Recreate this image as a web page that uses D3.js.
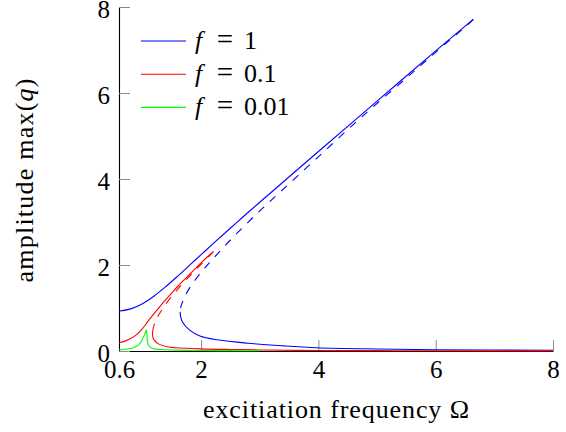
<!DOCTYPE html>
<html>
<head>
<meta charset="utf-8">
<script src="https://cdn.jsdelivr.net/npm/d3@7"></script>
<style>
  html, body { margin: 0; padding: 0; background: #fff; }
  svg { display: block; }
  text { font-family: "Liberation Serif", "Times New Roman", serif; fill: #000; }
</style>
</head>
<body>
<svg id="chart" width="566" height="432"></svg>
<script>
// ---- data (excitation frequency Omega, amplitude max(q)) ----
const xTicks = [0.6, 2, 4, 6, 8];
const xTickLabels = ["0.6", "2", "4", "6", "8"];
const yTicks = [0, 2, 4, 6, 8];
const yTickLabels = ["0", "2", "4", "6", "8"];

const seriesNames = ["1", "0.1", "0.01"];
const seriesColors = ["#0000ff", "#ff0000", "#00ff00"];

// f = 1
const blueUpper = [[0.6,0.93],[0.8,0.98],[1.0,1.10],[1.2,1.28],[1.4,1.50],[1.6,1.74],[1.8,1.99],[2.0,2.24],[2.2,2.49],[2.6,2.98],[3.0,3.46],[3.34,3.86],[4.0,4.64],[5.0,5.81],[6.0,6.98],[6.4,7.44],[6.64,7.71]];
const blueDashed = [[6.64,7.71],[6.43,7.45],[6.22,7.21],[5.56,6.42],[4.76,5.47],[3.97,4.48],[3.35,3.70],[2.94,3.18],[2.54,2.64],[2.34,2.35],[2.16,2.08],[1.99,1.81],[1.81,1.48],[1.71,1.23],[1.66,1.05],[1.643,0.91]];
const blueLower = [[1.643,0.91],[1.65,0.81],[1.68,0.68],[1.80,0.49],[1.98,0.35],[2.28,0.26],[2.80,0.18],[3.40,0.12],[3.97,0.077],[5.0,0.047],[6.0,0.030],[8.0,0.016]];

// f = 0.1
const redUpper = [[0.6,0.19],[0.7,0.23],[0.8,0.29],[0.9,0.38],[1.0,0.52],[1.1,0.70],[1.2,0.875],[1.3,1.04],[1.4,1.20],[1.5,1.35],[1.6,1.50],[1.7,1.64],[1.8,1.78],[1.9,1.915],[2.0,2.05],[2.1,2.18],[2.21,2.31]];
const redDashed = [[2.21,2.31],[2.134,2.2],[1.987,2.0],[1.845,1.8],[1.708,1.6],[1.579,1.4],[1.458,1.2],[1.351,1.0],[1.261,0.8],[1.215,0.67],[1.19,0.57]];
const redLower = [[1.19,0.57],[1.176,0.47],[1.17,0.39],[1.178,0.32],[1.197,0.26],[1.28,0.16],[1.42,0.10],[1.56,0.077],[2.0,0.05],[2.5,0.035],[3.0,0.025],[4.0,0.012],[5.0,0.008],[6.0,0.005],[8.0,0.003]];

// f = 0.01
const greenUpper = [[0.6,0.03],[0.83,0.07],[0.94,0.15],[1.01,0.30],[1.055,0.45],[1.065,0.49]];
const greenDashed = [[1.065,0.49],[1.075,0.40],[1.08,0.30]];
const greenLower = [[1.08,0.30],[1.10,0.14],[1.17,0.06],[1.34,0.035],[1.6,0.02],[2.0,0.012],[2.5,0.008],[3.0,0.005]];

const series = [
  { upper: blueUpper, dashed: blueDashed, lower: blueLower },
  { upper: redUpper, dashed: redDashed, lower: redLower },
  { upper: greenUpper, dashed: greenDashed, lower: greenLower }
];

// ---- layout ----
const svg = d3.select("#chart");
const x = d3.scaleLinear().domain([0.6, 8]).range([119, 553]);
const y = d3.scaleLinear().domain([0, 8]).range([351, 7]);
const FS = 25;

// axes
const xAxis = d3.axisBottom(x).tickValues(xTicks).tickFormat((d, i) => xTickLabels[i])
  .tickSize(-11).tickSizeOuter(0).tickPadding(8);
const yAxis = d3.axisLeft(y).tickValues(yTicks).tickFormat((d, i) => yTickLabels[i])
  .tickSize(-11).tickSizeOuter(0).tickPadding(9);

const gx = svg.append("g").attr("transform", `translate(0,${y(0)})`).call(xAxis);
const gy = svg.append("g").attr("transform", `translate(${x(0.6)},0)`).call(yAxis);
[gx, gy].forEach(g => {
  g.select(".domain").attr("stroke", "#000").attr("stroke-width", 1.1);
  g.selectAll(".tick line").attr("stroke", "#8a8a8a").attr("stroke-width", 1);
  g.selectAll(".tick text").attr("font-size", FS).attr("font-family", "Liberation Serif, serif").attr("fill", "#000");
});
gx.selectAll(".tick text").attr("dy", null).attr("y", 27);
gy.selectAll(".tick text").attr("dy", "0.40em");

// curves
const lineC = d3.line().x(d => x(d[0])).y(d => y(d[1])).curve(d3.curveCatmullRom.alpha(0.5));
const plot = svg.append("g");
series.forEach((s, i) => {
  const c = seriesColors[i];
  plot.append("path").attr("d", lineC(s.upper)).attr("fill", "none").attr("stroke", c).attr("stroke-width", 1.1);
  plot.append("path").attr("d", lineC(s.dashed)).attr("fill", "none").attr("stroke", c).attr("stroke-width", 1.1).attr("stroke-dasharray", "7.8 7.8");
  plot.append("path").attr("d", lineC(s.lower)).attr("fill", "none").attr("stroke", c).attr("stroke-width", 1.1);
});

// legend
const leg = svg.append("g");
seriesNames.forEach((n, i) => {
  const yy = 41 + i * 33.2;
  leg.append("line").attr("x1", 141).attr("x2", 186).attr("y1", yy).attr("y2", yy)
    .attr("stroke", seriesColors[i]).attr("stroke-width", 1.1);
  leg.append("text").attr("x", 195).attr("y", yy + 7.5).attr("font-size", FS + 1)
    .attr("font-style", "italic").text("f");
  leg.append("text").attr("x", 225).attr("y", yy + 7.5).attr("font-size", FS + 4)
    .attr("text-anchor", "middle").text("=");
  leg.append("text").attr("x", 244).attr("y", yy + 7.5).attr("font-size", FS + 1).text(n);
});

// axis labels
svg.append("text").attr("x", 336).attr("y", 418).attr("text-anchor", "middle").attr("font-size", FS + 1)
  .attr("textLength", 266).attr("lengthAdjust", "spacing")
  .text("excitiation frequency Ω");
const yl = svg.append("text").attr("transform", "translate(33,180.5) rotate(-90)")
  .attr("text-anchor", "middle").attr("font-size", FS + 1)
  .attr("textLength", 204).attr("lengthAdjust", "spacing");
yl.append("tspan").text("amplitude max(");
yl.append("tspan").attr("font-style", "italic").text("q");
yl.append("tspan").text(")");
</script>
</body>
</html>
